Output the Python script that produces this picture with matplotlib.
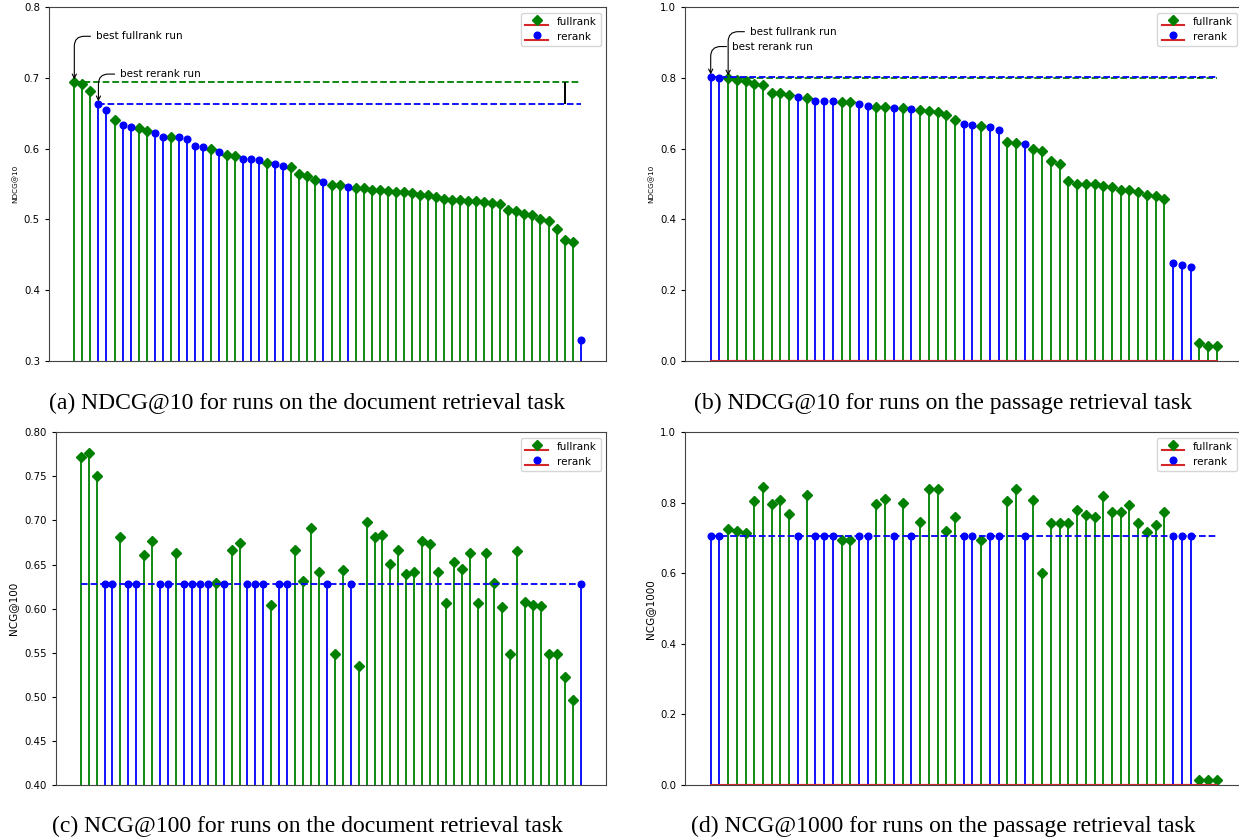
import numpy as np
import matplotlib
matplotlib.use("Agg")
import matplotlib.pyplot as plt
from matplotlib.ticker import MultipleLocator

# document task: run type (F = fullrank, R = rerank) in NDCG@10 order
doc_types = list("FFFRRFRRFFRRFRRRRFRFFRRRFRRFFFFRFFR" + "F" * 28 + "R")
doc_ndcg10 = [0.694, 0.691, 0.681, 0.663, 0.654, 0.641, 0.633, 0.630, 0.629, 0.625,
              0.622, 0.617, 0.617, 0.617, 0.614, 0.604, 0.603, 0.600, 0.595, 0.591,
              0.589, 0.586, 0.586, 0.584, 0.580, 0.578, 0.576, 0.574, 0.564, 0.561,
              0.556, 0.553, 0.548, 0.548, 0.546, 0.545, 0.544, 0.542, 0.541, 0.540,
              0.539, 0.538, 0.537, 0.535, 0.534, 0.532, 0.529, 0.528, 0.527, 0.526,
              0.526, 0.524, 0.523, 0.521, 0.513, 0.512, 0.508, 0.506, 0.501, 0.497,
              0.487, 0.471, 0.468, 0.329]
doc_ncg100 = [0.772, 0.777, 0.750, 0.628, 0.628, 0.681, 0.628, 0.628, 0.661, 0.677,
              0.628, 0.628, 0.663, 0.628, 0.628, 0.628, 0.628, 0.629, 0.628, 0.667,
              0.675, 0.628, 0.628, 0.628, 0.604, 0.628, 0.628, 0.667, 0.631, 0.691,
              0.642, 0.628, 0.549, 0.644, 0.628, 0.535, 0.698, 0.681, 0.683, 0.651,
              0.667, 0.639, 0.641, 0.677, 0.673, 0.641, 0.606, 0.653, 0.645, 0.663,
              0.606, 0.663, 0.629, 0.602, 0.549, 0.665, 0.608, 0.604, 0.603, 0.549,
              0.549, 0.522, 0.496, 0.628]

# passage task
pas_types = list("RRFFFFFFFFRFRRRFFRRFFRFRFFF" + "FFRRFRRFFRFF" + "F" * 14 + "RRRFFF")
pas_ndcg10 = [0.802, 0.800, 0.799, 0.794, 0.792, 0.783, 0.781, 0.758, 0.757, 0.753,
              0.745, 0.744, 0.736, 0.735, 0.734, 0.733, 0.732, 0.725, 0.720, 0.719,
              0.717, 0.716, 0.714, 0.712, 0.710, 0.707, 0.704, 0.694, 0.681, 0.671,
              0.666, 0.665, 0.660, 0.654, 0.618, 0.617, 0.614, 0.599, 0.592, 0.566,
              0.558, 0.508, 0.501, 0.499, 0.499, 0.495, 0.492, 0.482, 0.482, 0.478,
              0.470, 0.467, 0.457, 0.276, 0.270, 0.266, 0.049, 0.043, 0.041]
pas_ncg1000 = [0.706, 0.706, 0.726, 0.721, 0.714, 0.804, 0.845, 0.796, 0.808, 0.768,
               0.706, 0.821, 0.706, 0.706, 0.706, 0.694, 0.694, 0.706, 0.706, 0.798,
               0.811, 0.706, 0.800, 0.706, 0.746, 0.840, 0.840, 0.720, 0.761, 0.706,
               0.706, 0.694, 0.706, 0.706, 0.804, 0.840, 0.706, 0.808, 0.601, 0.743,
               0.743, 0.743, 0.779, 0.766, 0.760, 0.819, 0.773, 0.773, 0.794, 0.743,
               0.717, 0.736, 0.773, 0.706, 0.706, 0.706, 0.014, 0.014, 0.014]

captions = ["(a) NDCG@10 for runs on the document retrieval task",
            "(b) NDCG@10 for runs on the passage retrieval task",
            "(c) NCG@100 for runs on the document retrieval task",
            "(d) NCG@1000 for runs on the passage retrieval task"]

W, H = 1239, 839
fig = plt.figure(figsize=(W / 100, H / 100), dpi=100)


def px_axes(l, r, t, b):
    return fig.add_axes([l / W, 1 - b / H, (r - l) / W, (b - t) / H])


def stems(ax, types, vals):
    types = np.array(types)
    vals = np.array(vals)
    x = np.arange(len(vals))
    for key, c, m, ms, lab in [("F", "g", "D", 4.6, "fullrank"), ("R", "b", "o", 4.8, "rerank")]:
        sel = types == key
        ml, sl, bl = ax.stem(x[sel], vals[sel], linefmt=c + "-", markerfmt=c + m,
                             basefmt="C3-", label=lab)
        plt.setp(sl, linewidth=1.3)
        plt.setp(ml, markersize=ms)
        plt.setp(bl, linewidth=1.5)
    ax.set_xticks([])
    ax.tick_params(axis="y", labelsize=7.3, length=3, width=0.8)
    for sp in ax.spines.values():
        sp.set_color("#444")
    ax.legend(loc="upper right", fontsize=7.5, handlelength=2.2)
    return types, vals


def best_lines(ax, types, vals, gap=True, only_rerank=False, rerank_from_zero=False):
    n = len(vals)
    fi = int(np.argmax(np.where(types == "F", vals, -1)))
    ri = int(np.argmax(np.where(types == "R", vals, -1)))
    if not only_rerank:
        ax.hlines(vals[fi], fi, n - 1, colors="g", linestyles="dashed", lw=1.3)
    ax.hlines(vals[ri], 0 if rerank_from_zero else ri, n - 1, colors="b",
              linestyles="dashed", lw=1.3)
    if gap:
        ax.vlines(n - 3, vals[ri], vals[fi], colors="k", lw=1.4)
    return fi, ri


arrow = dict(arrowstyle="->", color="k", lw=0.8,
             connectionstyle="angle,angleA=0,angleB=90,rad=10")

# (a)
ax = px_axes(49, 606, 7.3, 360.7)
t, v = stems(ax, doc_types, doc_ndcg10)
fi, ri = best_lines(ax, t, v)
ax.set_ylim(0.3, 0.8)
ax.yaxis.set_major_locator(MultipleLocator(0.1))
ax.set_ylabel("NDCG@10", fontsize=5.2)
ax.annotate("best fullrank run", xy=(fi, v[fi]), xytext=(2.7, 0.759), fontsize=7.5,
            ha="left", va="center", arrowprops=arrow)
ax.annotate("best rerank run", xy=(ri, v[ri]), xytext=(5.7, 0.7055), fontsize=7.5,
            ha="left", va="center", arrowprops=arrow)

# (b)
ax = px_axes(685.4, 1242, 7.3, 360.7)
t, v = stems(ax, pas_types, pas_ndcg10)
fi, ri = best_lines(ax, t, v, rerank_from_zero=True)
ax.set_ylim(0, 1)
ax.yaxis.set_major_locator(MultipleLocator(0.2))
ax.set_ylabel("NDCG@10", fontsize=5.2)
ax.annotate("best fullrank run", xy=(fi, v[fi]), xytext=(4.5, 0.931), fontsize=7.5,
            ha="left", va="center", arrowprops=arrow)
ax.annotate("best rerank run", xy=(ri, v[ri]), xytext=(2.45, 0.889), fontsize=7.5,
            ha="left", va="center", arrowprops=arrow)

# (c)
ax = px_axes(55.7, 606, 432.3, 785)
t, v = stems(ax, doc_types, doc_ncg100)
best_lines(ax, t, v, gap=False, only_rerank=True, rerank_from_zero=True)
ax.set_ylim(0.4, 0.8)
ax.yaxis.set_major_locator(MultipleLocator(0.05))
ax.set_ylabel("NCG@100", fontsize=7.5)

# (d)
ax = px_axes(685.4, 1242, 432.3, 785)
t, v = stems(ax, pas_types, pas_ncg1000)
best_lines(ax, t, v, gap=False, only_rerank=True, rerank_from_zero=True)
ax.set_ylim(0, 1)
ax.yaxis.set_major_locator(MultipleLocator(0.2))
ax.set_ylabel("NCG@1000", fontsize=7.5)

for cap, (cx, cy) in zip(captions, [(307, 403), (943, 403), (307, 826), (943, 826)]):
    fig.text(cx / W, 1 - cy / H, cap, ha="center", va="center", fontsize=17,
             family=["Liberation Serif", "DejaVu Serif"])

fig.savefig("out.png", dpi=100, facecolor="white")
